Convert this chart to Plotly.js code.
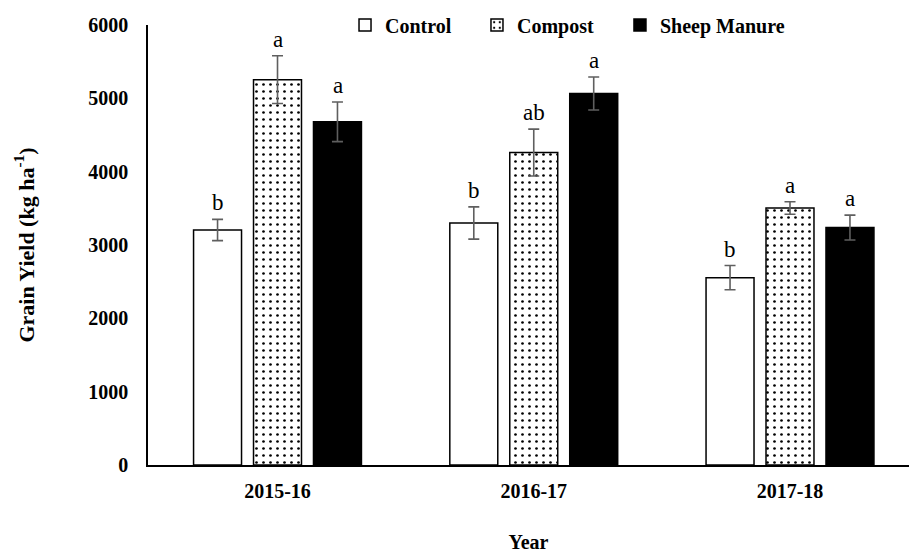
<!DOCTYPE html>
<html>
<head>
<meta charset="utf-8">
<script src="https://cdn.plot.ly/plotly-3.0.1.min.js"></script>
<style>
html,body{margin:0;padding:0;background:#fff;}
#chart{width:909px;height:553px;}
</style>
</head>
<body>
<div id="chart"></div>
<script>
// ---- data ----
const years = ['2015-16', '2016-17', '2017-18'];
const seriesNames = ['Control', 'Compost', 'Sheep Manure'];
const control = [3205, 3300, 2555];
const controlErr = [145, 220, 165];
const compost = [5255, 4260, 3505];
const compostErr = [325, 320, 85];
const sheep = [4680, 5065, 3238];
const sheepErr = [270, 225, 170];
const controlLetters = ['b', 'b', 'b'];
const compostLetters = ['a', 'ab', 'a'];
const sheepLetters = ['a', 'a', 'a'];
const yTicks = [0, 1000, 2000, 3000, 4000, 5000, 6000];

const FONT = 'Liberation Serif';
const errStyle = {type: 'data', visible: true, color: '#5f5f5f', thickness: 1.6, width: 5.5};

const traces = [
  {
    type: 'bar', name: seriesNames[0], x: years, y: control, legend: 'legend',
    marker: {color: '#ffffff', line: {color: '#000000', width: 1.5}},
    error_y: Object.assign({array: controlErr}, errStyle)
  },
  {
    type: 'bar', name: seriesNames[1], x: years, y: compost, legend: 'legend2',
    marker: {color: '#ffffff', line: {color: '#000000', width: 1.5},
      pattern: {shape: '.', fgcolor: '#000000', bgcolor: '#ffffff', size: 7, solidity: 0.12, fillmode: 'replace'}},
    error_y: Object.assign({array: compostErr}, errStyle)
  },
  {
    type: 'bar', name: seriesNames[2], x: years, y: sheep, legend: 'legend3',
    marker: {color: '#000000', line: {color: '#000000', width: 1.5}},
    error_y: Object.assign({array: sheepErr}, errStyle)
  }
];

const annotations = [];
const groups = [
  {vals: control, errs: controlErr, letters: controlLetters, shift: -60},
  {vals: compost, errs: compostErr, letters: compostLetters, shift: 0},
  {vals: sheep, errs: sheepErr, letters: sheepLetters, shift: 60}
];
groups.forEach(g => {
  years.forEach((yr, i) => {
    annotations.push({
      x: yr, y: g.vals[i] + g.errs[i], xref: 'x', yref: 'y',
      text: g.letters[i], showarrow: false, xanchor: 'center', yanchor: 'bottom',
      xshift: g.shift, yshift: 2,
      font: {family: FONT, size: 23, color: '#000000'}
    });
  });
});

const boldFont = {family: FONT, size: 20, weight: 'bold', color: '#000000'};
function legendAt(x) {
  return {
    orientation: 'h', x: x, xanchor: 'left', y: 1, yanchor: 'middle',
    font: {family: FONT, size: 20, weight: 'bold', color: '#000000'},
    bgcolor: 'rgba(0,0,0,0)'
  };
}

const layout = {
  width: 909, height: 553,
  margin: {l: 148, r: 0, t: 25, b: 88},
  paper_bgcolor: '#ffffff', plot_bgcolor: '#ffffff',
  font: {family: FONT, color: '#000000'},
  barmode: 'group', bargap: 0.298, bargroupgap: 0.2,
  showlegend: true,
  legend: legendAt(0.2589),
  legend2: legendAt(0.4323),
  legend3: legendAt(0.6202),
  xaxis: {
    type: 'category', range: [-0.5054, 2.4644], fixedrange: true,
    showline: true, linecolor: '#000000', linewidth: 1.5,
    showgrid: false, zeroline: false, ticks: '',
    ticklabelstandoff: 7,
    tickfont: boldFont,
    title: {text: 'Year', standoff: 34, font: boldFont}
  },
  yaxis: {
    range: [0, 6000], fixedrange: true,
    tickvals: yTicks, ticktext: yTicks.map(String),
    showline: true, linecolor: '#000000', linewidth: 1.5,
    showgrid: false, zeroline: false, ticks: '',
    ticklabelstandoff: 14,
    tickfont: boldFont,
    title: {text: 'Grain Yield (kg ha<sup>-1</sup>)', standoff: 48, font: {family: FONT, size: 22, weight: 'bold', color: '#000000'}},
    automargin: false
  },
  annotations: annotations
};

Plotly.newPlot('chart', traces, layout, {displayModeBar: false, responsive: false});
</script>
</body>
</html>
